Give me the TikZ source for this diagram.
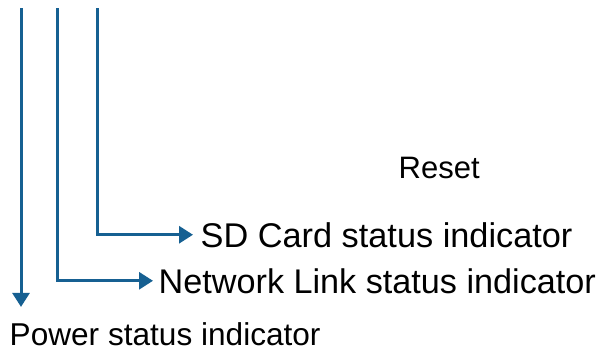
\documentclass[tikz,border=0pt]{standalone}
\usepackage{fontspec}
\setmainfont{Liberation Sans}
\usetikzlibrary{arrows.meta}
\definecolor{ledblue}{RGB}{22,96,146}

\begin{document}
\begin{tikzpicture}[x=1pt, y=-1pt]
\tikzset{lbl/.style={inner sep=0pt, anchor=base west, font=\fontsize{#1}{38}\selectfont},
  lbl/.default=34,
  wire/.style={draw=ledblue, line width=3pt, -{Triangle[length=14pt, width=17pt]}}}
\useasboundingbox (0,0) rectangle (602,354);
% top ends of the three leads
\coordinate (L1) at (21,8);
\coordinate (L2) at (57.5,8);
\coordinate (L3) at (97.5,8);
\node[lbl=31] (rst) at (398.5,178) {Reset};
\node[lbl=34.3] (sd) at (200.5,247) {SD Card status indicator};
\node[lbl=34.2] (net) at (158.5,293) {Network Link status indicator};
\node[lbl=31.6] (pwr) at (9.5,345) {Power status indicator};
\draw[wire, shorten >=7.5pt] (L3) |- (sd.west);
\draw[wire, shorten >=5.5pt] (L2) |- (net.west);
\draw[wire, shorten >=15pt] (L1) -- (L1 |- pwr.north);
\end{tikzpicture}
\end{document}
